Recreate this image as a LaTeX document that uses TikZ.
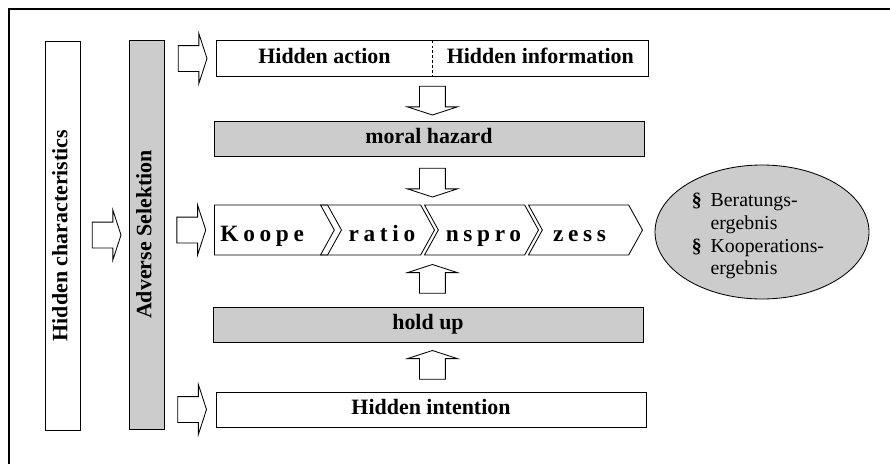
\documentclass[tikz,border=0pt]{standalone}
\usepackage{fontspec}
\setmainfont{Liberation Serif}
\newfontfamily\spaced[LetterSpace=20]{Liberation Serif}
\usepackage{tikz}
\usetikzlibrary{calc,positioning,shapes.arrows,shapes.symbols,shapes.geometric}
\definecolor{boxgray}{gray}{0.8}

\begin{document}
\begin{tikzpicture}[line width=0.6pt,
    font=\fontsize{15.6}{18}\selectfont\bfseries,
    box/.style={draw=black,minimum width=10.75cm,minimum height=0.875cm,inner sep=0pt,
      text height=0.3cm,text depth=0.06cm},
    half/.style={minimum width=5.375cm,minimum height=0.875cm,inner sep=0pt,
      text height=0.3cm,text depth=0.06cm},
    bar/.style={draw=black,minimum width=9.725cm,minimum height=0.875cm,inner sep=0pt,rotate=90,
      text height=0.3cm,text depth=0.06cm},
    blk/.style={single arrow,draw=black,fill=white,inner xsep=0pt,inner ysep=0.3125cm,
      minimum height=0.72cm,single arrow head extend=0.3cm,single arrow tip angle=144},
    chev/.style={signal,draw=black,signal to=east,signal from=west,signal pointer angle=122,
      minimum width=2.85cm,minimum height=1.25cm,inner sep=0pt},
    chtxt/.style={font=\spaced\fontsize{16.6}{18}\selectfont\bfseries,inner sep=0pt,
      text height=0.55cm,text depth=0pt}]

    \useasboundingbox (0,0) rectangle (22.25,-11.6);
    \draw [line width=1.2pt] (0.225,-11.6) -- (0.225,-0.225) -- (22.25,-0.225);

    % left bars
    \node (chr) [bar] at (1.5625,-5.8875) {Hidden characteristics};
    \node (adv) [bar,fill=boxgray] at (3.6625,-5.8625) {Adverse Selektion};

    % top box, split in two
    \node (act) [half] at (8.1125,-1.4625) {Hidden action};
    \node (inf) [half,right=0pt of act] {Hidden information};
    \draw (act.north west) rectangle (inf.south east);
    \draw [dash pattern=on 2pt off 1.5pt] (act.north east) -- (act.south east);

    \node (moral)  [box,fill=boxgray] at (10.725,-3.4625) {moral hazard};
    \node (hold)   [box,fill=boxgray] at (10.7,-8.1125) {hold up};
    \node (intent) [box] at (10.775,-10.2375) {Hidden intention};

    % process chevrons
    \node (c1) [chev,signal from=nowhere,minimum width=3.175cm,
      label={[chtxt,xshift=-0.22cm]center:Koope}] at (6.775,-5.75) {};
    \node (c2) [chev,label={[chtxt,xshift=0.11cm]center:ratio}] at (9.4375,-5.75) {};
    \node (c3) [chev,label={[chtxt,xshift=0.05cm]center:nspro}] at (12.0375,-5.75) {};
    \node (c4) [chev,label={[chtxt,xshift=-0.15cm]center:zess}] at (14.6375,-5.75) {};

    \node (res) [ellipse,draw=black,fill=boxgray,minimum width=5.35cm,minimum height=3.35cm,
      label={[font=\fontsize{14.1}{16.3}\selectfont,xshift=-0.1cm,yshift=-0.1cm]center:%
        \begin{tabular}{@{}l@{\hspace{0.22cm}}l@{}}
          \textbf{\S} & Beratungs-\\
                      & ergebnis\\
          \textbf{\S} & Kooperations-\\
                      & ergebnis
        \end{tabular}}] at (19.05,-5.8) {};

    % block arrows
    \node (a0) [blk] at ($(chr.south)!0.5!(adv.north)$) {};
    \node (a1) [blk] at ($(adv.south |- act.west)!0.5!(act.west)$) {};
    \node (a2) [blk] at ($(adv.south |- c1.west)!0.5!(c1.west)$) {};
    \node (a3) [blk] at ($(adv.south |- intent.west)!0.5!(intent.west)$) {};

    \node (d1) [blk,rotate=-90] at ($(act.south east)!0.5!(moral.north -| act.south east)$) {};
    \node (d2) [blk,rotate=-90] at ($(moral.south -| act.south east)!0.5!(c1.north -| act.south east)$) {};
    \node (u1) [blk,rotate=90] at ($(c1.south -| act.south east)!0.5!(hold.north -| act.south east)$) {};
    \node (u2) [blk,rotate=90] at ($(hold.south -| act.south east)!0.5!(intent.north -| act.south east)$) {};

\end{tikzpicture}
\end{document}
